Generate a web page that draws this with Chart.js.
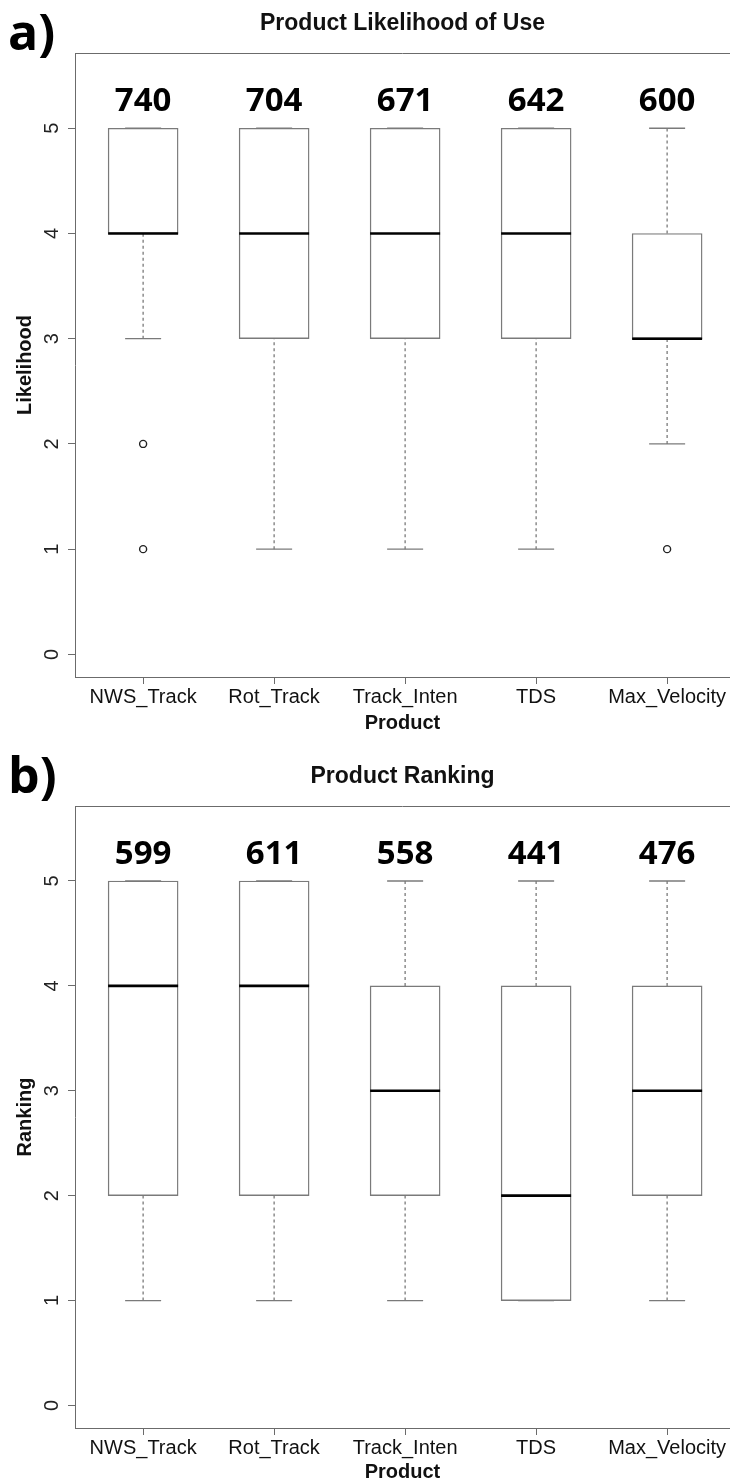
<!DOCTYPE html>
<html>
<head>
<meta charset="utf-8">
<script src="https://cdn.jsdelivr.net/npm/chart.js@4.4.1/dist/chart.umd.min.js"></script>
<style>
  body { margin: 0; background: #fff; }
  #wrap { position: relative; width: 730px; height: 1484px; }
  canvas { position: absolute; left: 0; }
</style>
</head>
<body>
<div id="wrap">
  <canvas id="likelihoodChart" width="730" height="742" style="top:0"></canvas>
  <canvas id="rankingChart" width="730" height="742" style="top:742px"></canvas>
</div>
<script>
// products on the x axis
const products = ['NWS_Track', 'Rot_Track', 'Track_Inten', 'TDS', 'Max_Velocity'];
const yTicks = [0, 1, 2, 3, 4, 5];

// a) likelihood of use - box stats per product
const likeLow = [3, 1, 1, 1, 2];
const likeQ1 = [4, 3, 3, 3, 3];
const likeMed = [4, 4, 4, 4, 3];
const likeQ3 = [5, 5, 5, 5, 4];
const likeHigh = [5, 5, 5, 5, 5];
const likeOutliers = [[2, 1], [], [], [], [1]];
const likeCounts = [740, 704, 671, 642, 600];

// b) ranking - box stats per product
const rankLow = [1, 1, 1, 1, 1];
const rankQ1 = [2, 2, 2, 1, 2];
const rankMed = [4, 4, 3, 2, 3];
const rankQ3 = [5, 5, 4, 4, 4];
const rankHigh = [5, 5, 5, 5, 5];
const rankOutliers = [[], [], [], [], []];
const rankCounts = [599, 611, 558, 441, 476];

const axisColor = '#6b6b6b';
const boxColor = '#7a7a7a';
const countLevel = 5.28; // y value where the n labels sit

Chart.defaults.font.family = '"Liberation Sans", Arial, sans-serif';
Chart.defaults.color = '#111';

// extra drawing: top frame line, rotated y tick labels, counts, panel letter
const panelExtras = {
    id: 'panelExtras',
    afterDraw(chart, args, opts) {
        const { ctx, chartArea: area, scales: { x, y } } = chart;
        ctx.save();
        ctx.strokeStyle = axisColor;
        ctx.lineWidth = 1;
        ctx.beginPath();
        ctx.moveTo(area.left, Math.round(area.top) + 0.5);
        ctx.lineTo(area.right, Math.round(area.top) + 0.5);
        ctx.stroke();

        // y tick labels, rotated like R's default
        ctx.fillStyle = '#222';
        ctx.font = '20px "Liberation Sans", Arial, sans-serif';
        ctx.textAlign = 'center';
        ctx.textBaseline = 'middle';
        y.ticks.forEach(t => {
            ctx.save();
            ctx.translate(area.left - 23, y.getPixelForValue(t.value));
            ctx.rotate(-Math.PI / 2);
            ctx.fillText(String(t.value), 0, 0);
            ctx.restore();
        });

        // n per product
        ctx.fillStyle = '#000';
        ctx.font = 'bold 33px "Open Sans", sans-serif';
        ctx.textBaseline = 'alphabetic';
        opts.counts.forEach((c, i) => {
            ctx.fillText(String(c), x.getPixelForValue(i + 1), y.getPixelForValue(countLevel) + 12);
        });

        // panel letter
        ctx.font = 'bold 50px "Open Sans", sans-serif';
        ctx.textAlign = 'left';
        ctx.fillText(opts.letter, 8, opts.letterY);
        ctx.restore();
    }
};

function boxChart(canvasId, cfg) {
    const { low, q1, med, q3, high, outliers } = cfg;

    // box (q1..q3) as floating bars
    const boxes = products.map((_, i) => ({ x: i + 1, y: [q1[i], q3[i]] }));
    // dashed whiskers, broken by null points
    const whiskers = [];
    products.forEach((_, i) => {
        whiskers.push({ x: i + 1, y: low[i] }, { x: i + 1, y: q1[i] }, { x: i + 1, y: null });
        whiskers.push({ x: i + 1, y: q3[i] }, { x: i + 1, y: high[i] }, { x: i + 1, y: null });
    });
    const caps = [];
    products.forEach((_, i) => caps.push({ x: i + 1, y: low[i] }, { x: i + 1, y: high[i] }));
    const medians = products.map((_, i) => ({ x: i + 1, y: med[i] }));
    const points = [];
    outliers.forEach((list, i) => list.forEach(v => points.push({ x: i + 1, y: v })));

    const ctx = document.getElementById(canvasId).getContext('2d');
    return new Chart(ctx, {
        type: 'bar',
        data: {
            datasets: [
                {
                    type: 'scatter', data: points, order: 0,
                    pointStyle: 'circle', pointRadius: 3.5, borderWidth: 1.4,
                    borderColor: '#222', backgroundColor: '#fff'
                },
                {
                    type: 'scatter', data: medians, order: 1,
                    pointStyle: 'line', pointRadius: 35, borderWidth: 2.6, borderColor: '#000'
                },
                {
                    type: 'scatter', data: caps, order: 2,
                    pointStyle: 'line', pointRadius: 18, borderWidth: 1.3, borderColor: boxColor
                },
                {
                    type: 'line', data: whiskers, order: 3,
                    borderColor: boxColor, borderWidth: 1.3, borderDash: [3, 3],
                    pointRadius: 0, spanGaps: false, fill: false
                },
                {
                    type: 'bar', data: boxes, order: 4,
                    barThickness: 70, borderSkipped: false, borderWidth: 1.4,
                    borderColor: boxColor, backgroundColor: '#fff'
                }
            ]
        },
        options: {
            responsive: false,
            animation: false,
            events: [],
            layout: { padding: 0, autoPadding: false },
            plugins: {
                legend: { display: false },
                tooltip: { enabled: false },
                title: {
                    display: true,
                    text: cfg.title,
                    fullSize: false,
                    color: '#111',
                    font: { size: 23, weight: 'bold' },
                    padding: cfg.titlePadding
                },
                panelExtras: { counts: cfg.counts, letter: cfg.letter, letterY: cfg.letterY }
            },
            scales: {
                x: {
                    type: 'linear',
                    min: 0.48,
                    max: 5.48,
                    offset: false,
                    afterBuildTicks: s => { s.ticks = products.map((_, i) => ({ value: i + 1 })); },
                    afterFit: s => { s.height = cfg.xHeight; s.paddingLeft = 0; s.paddingRight = 0; },
                    ticks: {
                        autoSkip: false, maxRotation: 0, padding: 1,
                        font: { size: 20 }, color: '#111',
                        callback: v => products[v - 1]
                    },
                    grid: { drawOnChartArea: false, drawTicks: true, tickLength: 7, color: axisColor, offset: false },
                    border: { display: true, color: axisColor, width: 1 },
                    title: {
                        display: true, text: 'Product', color: '#111',
                        font: { size: 20, weight: 'bold' },
                        padding: { top: 0, bottom: cfg.xTitlePad }
                    }
                },
                y: {
                    type: 'linear',
                    min: -0.215,
                    max: 5.715,
                    afterBuildTicks: s => { s.ticks = yTicks.map(v => ({ value: v })); },
                    afterFit: s => { s.width = 75; s.paddingTop = 0; s.paddingBottom = 0; },
                    ticks: { color: 'rgba(0,0,0,0)', font: { size: 20 } },
                    grid: { drawOnChartArea: false, drawTicks: true, tickLength: 7, color: axisColor },
                    border: { display: true, color: axisColor, width: 1 },
                    title: {
                        display: true, text: cfg.yTitle, color: '#111',
                        font: { size: 20, weight: 'bold' },
                        padding: { top: 13, bottom: 0 }
                    }
                }
            }
        },
        plugins: [panelExtras]
    });
}

boxChart('likelihoodChart', {
    low: likeLow, q1: likeQ1, med: likeMed, q3: likeQ3, high: likeHigh,
    outliers: likeOutliers, counts: likeCounts,
    title: 'Product Likelihood of Use', yTitle: 'Likelihood',
    titlePadding: { top: 10.2, bottom: 15.2 },
    xHeight: 65, xTitlePad: 7,
    letter: 'a)', letterY: 50
});

boxChart('rankingChart', {
    low: rankLow, q1: rankQ1, med: rankMed, q3: rankQ3, high: rankHigh,
    outliers: rankOutliers, counts: rankCounts,
    title: 'Product Ranking', yTitle: 'Ranking',
    titlePadding: { top: 21.2, bottom: 15.2 },
    xHeight: 56, xTitlePad: 0,
    letter: 'b)', letterY: 51
});
</script>
</body>
</html>
